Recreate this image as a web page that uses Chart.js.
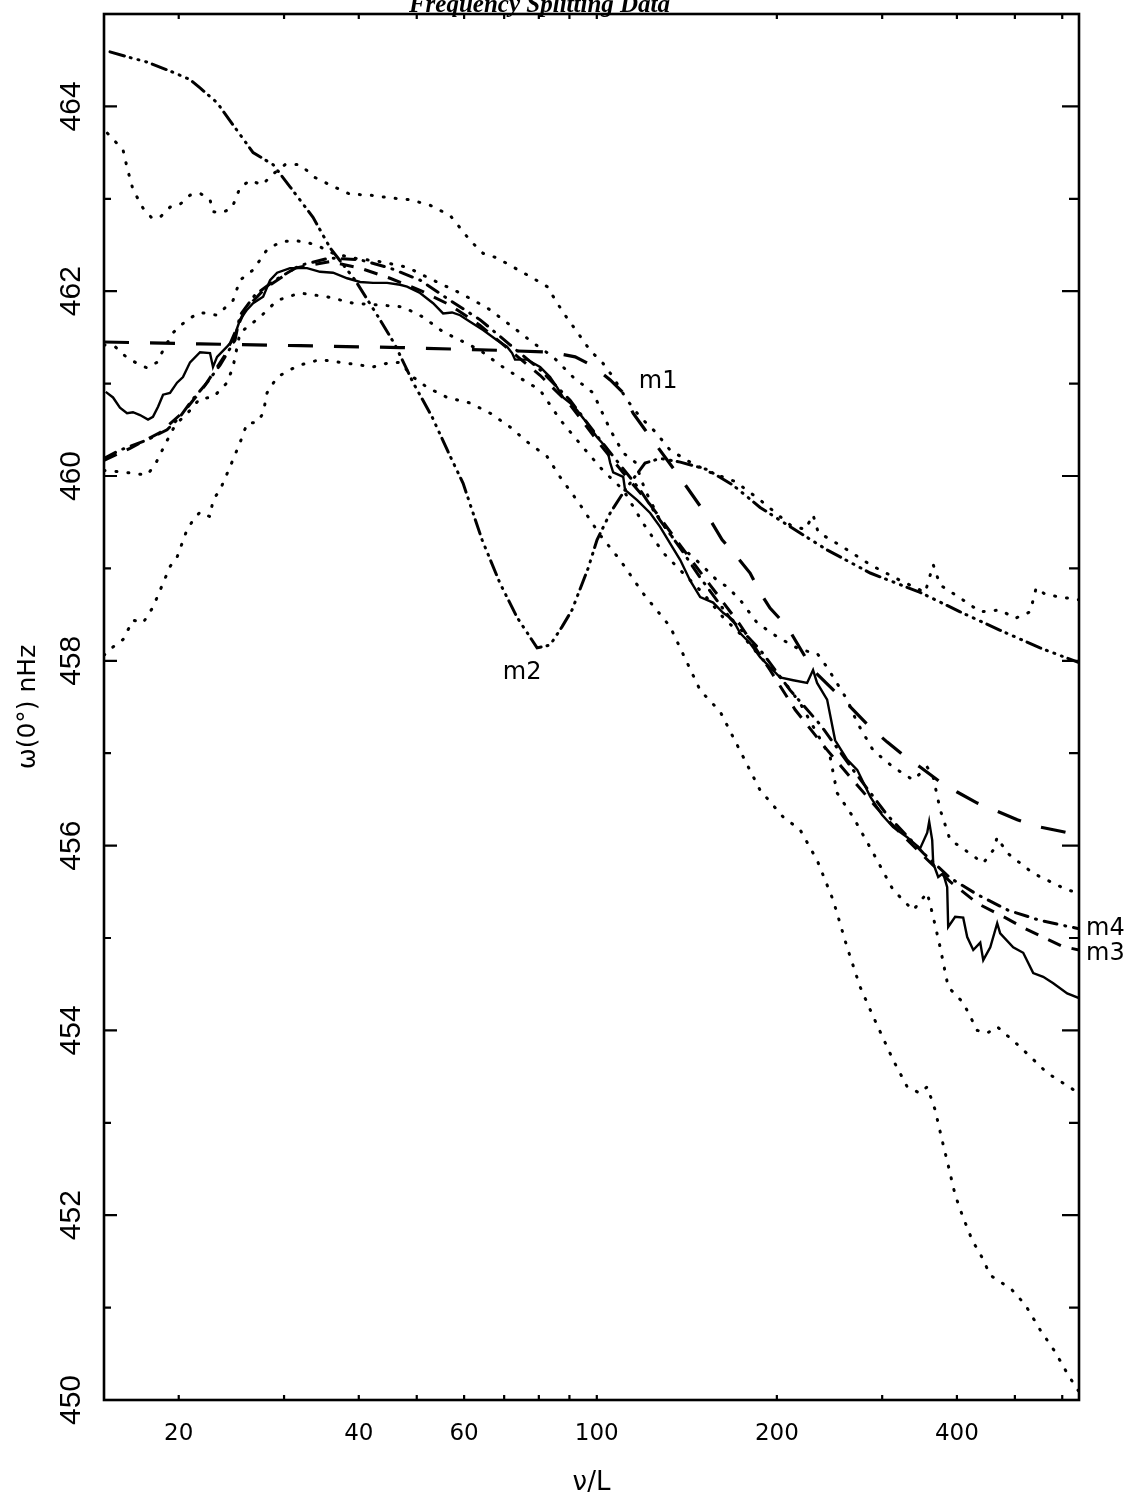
<!DOCTYPE html>
<html>
<head>
<meta charset="utf-8">
<title>Frequency Splitting Data</title>
<script src="https://cdn.jsdelivr.net/npm/chart.js@4.4.1/dist/chart.umd.min.js"></script>
<style>
  html, body { margin: 0; padding: 0; background: #fff; overflow: hidden; }
  #wrap { position: relative; width: 1134px; height: 1502px; }
</style>
</head>
<body>
<div id="wrap"><canvas id="chart" width="1134" height="1502"></canvas></div>
<script>
// x = nu/L (log axis), y = omega(0 deg) in nHz
const xTicks = [20, 40, 60, 100, 200, 400];
const xMinorTicks = [20, 30, 40, 50, 60, 70, 80, 90, 100, 200, 300, 400, 500, 600];
const yTicks = [450, 452, 454, 456, 458, 460, 462, 464];

// measured data (solid)
const solidX = [15.1,15.53,15.95,16.39,16.77,17.23,17.77,18.11,18.47,18.83,19.34,19.87,20.33,20.89,21.71,22.56,22.82,23.18,24.09,24.65,25.32,26.02,26.63,27.68,28.43,29.21,30.70,32.78,34.46,36.23,38.25,40.2,42.27,44.61,46.89,48.17,50.64,53.25,55.34,57.28,59.08,61.39,64.54,68.11,70.78,72.17,73.0,76.46,80.38,83.54,85.82,87.84,90.24,92.7,96.34,100.1,104.0,105.3,106.5,110.7,111.5,116.8,122.8,127.6,132.6,137.9,143.2,148.9,156.5,162.6,169.0,173.6,180.4,187.5,194.8,202.5,213.0,224.7,229.9,233.5,242.7,250.3,262.2,272.5,286.5,300,312.9,330.3,347.2,356.8,359.5,363.7,365.1,372.2,379.4,385.3,386.8,397.3,409.8,416.2,426.0,437.6,442.7,454.8,467.1,472.5,496.8,516.3,536.6,557.6,579.6,611.6,640];
const solidY = [460.91,460.85,460.74,460.68,460.69,460.66,460.61,460.64,460.75,460.88,460.90,461.01,461.07,461.23,461.34,461.33,461.18,461.29,461.40,461.47,461.69,461.80,461.87,461.94,462.12,462.20,462.25,462.25,462.21,462.20,462.14,462.10,462.09,462.09,462.07,462.05,461.98,461.87,461.76,461.77,461.74,461.67,461.58,461.47,461.40,461.33,461.26,461.26,461.18,461.07,460.96,460.85,460.79,460.71,460.57,460.42,460.30,460.14,460.04,459.99,459.85,459.74,459.60,459.45,459.27,459.09,458.87,458.69,458.63,458.52,458.44,458.30,458.19,458.04,457.93,457.82,457.79,457.76,457.90,457.76,457.58,457.14,456.93,456.82,456.53,456.33,456.20,456.09,455.97,456.14,456.26,456.06,455.81,455.66,455.70,455.55,455.12,455.23,455.22,455.01,454.87,454.95,454.76,454.90,455.16,455.05,454.90,454.84,454.62,454.58,454.51,454.40,454.35];

// dotted error curves
const daX = [15.2,16.14,16.39,16.77,17.43,18.05,18.61,19.34,20.10,20.89,21.71,22.56,22.82,23.63,24.55,25.32,26.32,27.57,28.65,30.12,31.9,33.81,35.81,38.67,41.79,45.12,48.73,52.65,56.86,61.39,64.54,68.11,71.61,78.27,82.59,87.84,92.7,97.44,102.4,106.5,112.4,118.1,125.2,132.6,143.2,154.7,170.4,187.5,210.6,223.1,229.9,234.5,255.2,286.5,321.5,354.0,365.1,375,405,437.6,472.5,500.7,530.4,542.7,561.9,595.4,640];
const daY = [463.71,463.53,463.34,463.10,462.90,462.79,462.80,462.91,462.94,463.04,463.06,462.99,462.86,462.85,462.90,463.12,463.20,463.15,463.26,463.37,463.37,463.23,463.15,463.05,463.04,463.01,462.99,462.93,462.82,462.55,462.41,462.36,462.28,462.14,462.05,461.77,461.56,461.36,461.22,461.07,460.82,460.64,460.48,460.28,460.15,460.04,459.94,459.74,459.47,459.42,459.58,459.39,459.25,459.04,458.87,458.74,459.04,458.82,458.68,458.53,458.55,458.46,458.53,458.79,458.72,458.69,458.66];

const dbX = [15,15.65,16.39,17.03,17.70,18.39,18.83,19.56,20.65,21.71,23.18,24.65,25.32,26.63,28.10,29.54,31.06,32.78,34.46,36.23,39.13,43.42,48.17,53.25,59.08,65.58,72.43,78.27,84.51,91.29,98.58,105.3,110.7,115.9,120.4,127.6,136.2,144.9,150.6,158.9,165.2,173.6,185.4,200.2,218.8,233.6,242.7,262.1,272.5,289.8,312.9,338.0,356.8,365.1,375.0,389.7,405,442.7,459.9,467.1,485.4,536.6,611.6,640];
const dbY = [461.42,461.40,461.28,461.22,461.17,461.23,461.36,461.55,461.69,461.77,461.74,461.90,462.12,462.23,462.45,462.53,462.55,462.53,462.48,462.41,462.36,462.32,462.26,462.12,461.98,461.82,461.61,461.44,461.29,461.07,460.90,460.50,460.25,460.15,459.85,459.52,459.27,459.12,459.02,458.87,458.80,458.66,458.41,458.26,458.12,458.08,457.93,457.58,457.33,457.03,456.85,456.71,456.85,456.74,456.39,456.06,455.99,455.81,455.95,456.09,455.92,455.70,455.52,455.49];

const dcX = [15,16.26,17.70,18.25,18.97,19.72,20.89,21.71,22.82,24.09,24.65,25.32,27.35,29.21,31.90,35.40,39.13,43.42,47.43,51.23,55.34,59.08,63.83,68.88,74.42,80.38,86.81,94.86,102.4,110.7,119.5,129.1,139.4,150.6,162.6,175.7,189.7,204.9,218.8,231.8,245.5,252.2,268.2,289.8,312.9,338.0,356.8,365.1,375.0,386.8,409.8,432.6,449.5,467.1,510.5,566.2,640];
const dcY = [460.06,460.04,460.01,460.12,460.34,460.55,460.71,460.84,460.85,461.01,461.18,461.55,461.72,461.90,461.98,461.94,461.87,461.85,461.83,461.72,461.56,461.47,461.36,461.20,461.06,460.93,460.61,460.31,460.06,459.85,459.49,459.17,458.95,458.73,458.47,458.26,458.01,457.79,457.54,457.25,456.96,456.57,456.31,455.92,455.52,455.30,455.49,455.23,454.90,454.47,454.30,454.00,453.97,454.04,453.82,453.54,453.32];

const ddX = [15,15.53,16.14,16.77,17.43,18.11,18.83,19.34,19.87,20.65,21.13,21.71,22.56,22.82,23.45,24.37,25.32,26.02,27.04,27.68,28.10,29.21,30.70,31.90,34.46,38.25,42.27,44.61,46.89,49.31,52.03,56.20,61.39,66.33,71.61,76.46,82.59,86.81,93.78,101.3,109.4,119.5,132.6,148.9,160.8,175.7,187.5,204.9,218.8,233.6,248.4,262.1,275.6,289.8,312.9,330.3,347.2,356.8,367.8,377.9,386.8,397.3,408.3,424.2,440.9,454.8,472.5,494.8,520.4,551,583.9,613.9,640];
const ddY = [458.06,458.15,458.23,458.44,458.41,458.58,458.84,459.02,459.12,459.42,459.52,459.61,459.56,459.74,459.85,460.10,460.36,460.57,460.58,460.68,460.90,461.07,461.15,461.20,461.26,461.22,461.18,461.22,461.23,461.07,460.96,460.85,460.79,460.68,460.53,460.37,460.21,459.99,459.69,459.36,459.09,458.73,458.37,457.68,457.45,456.96,456.60,456.31,456.17,455.84,455.41,454.90,454.47,454.15,453.68,453.39,453.32,453.39,453.14,452.81,452.54,452.22,452.00,451.73,451.54,451.35,451.28,451.19,451.03,450.76,450.52,450.27,450.09];

// models m1..m4
const m1X = [15,21.71,31.9,46.89,68.88,83.54,92.0,98.6,105.3,110.7,115.0,120.4,137.9,155.9,162.0,172.3,180.4,187.5,194.8,208.1,216.2,229.9,258.2,286.5,305.9,325.2,347.2,375.0,400.4,432.6,459.9,504.6,551,602.3,640];
const m1Y = [461.45,461.43,461.41,461.39,461.36,461.34,461.29,461.19,461.04,460.90,460.68,460.50,459.98,459.49,459.31,459.11,458.95,458.74,458.57,458.37,458.19,457.90,457.58,457.28,457.12,456.98,456.85,456.69,456.58,456.46,456.39,456.28,456.20,456.15,456.11];

const m2X = [15.35,16.77,17.70,19.56,20.89,21.71,23.18,24.65,26.63,28.76,30.70,33.54,35.81,39.44,43.42,45.99,49.31,53.04,56.43,59.77,64.29,68.88,73.58,79.46,83.54,87.5,90.9,96.7,100.1,105.3,111.5,120.4,127.6,137.9,152.9,169.0,187.5,210.6,242.7,286.5,347.2,405,472.5,551,640];
const m2Y = [464.59,464.52,464.48,464.37,464.29,464.20,464.04,463.80,463.50,463.37,463.13,462.80,462.47,462.12,461.69,461.42,461.01,460.64,460.26,459.92,459.31,458.84,458.47,458.14,458.17,458.37,458.55,459.0,459.31,459.60,459.85,460.14,460.19,460.15,460.07,459.90,459.66,459.45,459.20,458.95,458.74,458.53,458.33,458.14,457.98];

const m3X = [15,16.58,18.61,20.49,22.13,23.91,25.82,27.88,31.30,35.81,40.20,45.12,50.64,56.86,63.83,71.61,80.38,90.24,101.3,111.5,122.8,137.9,154.7,173.6,194.8,214.6,240.9,270.3,305.9,351.3,389.7,434.1,481.8,524.4,599.8,640];
const m3Y = [460.17,460.30,460.47,460.71,460.98,461.31,461.80,462.03,462.25,462.32,462.25,462.14,462.01,461.85,461.63,461.36,461.09,460.77,460.34,460.01,459.69,459.25,458.82,458.39,457.90,457.47,457.06,456.68,456.28,455.89,455.61,455.37,455.22,455.09,454.91,454.87];

const m4X = [15,15.95,17.70,19.12,20.10,21.05,22.30,23.45,24.84,25.32,26.83,28.98,31.90,35.81,40.20,45.12,50.64,56.86,63.83,71.61,80.38,90.24,101.3,109.4,118.1,127.6,137.9,148.9,167.1,187.5,210.6,236.3,268.2,305.9,351.3,389.7,432.6,487.3,551,640];
const m4Y = [460.19,460.28,460.39,460.50,460.64,460.82,461.01,461.20,461.47,461.74,461.96,462.12,462.28,462.36,462.34,462.25,462.12,461.90,461.69,461.42,461.15,460.82,460.39,460.12,459.85,459.52,459.22,458.90,458.46,458.12,457.68,457.31,456.82,456.33,455.92,455.65,455.47,455.30,455.19,455.10];

function series(xs, ys) {
  return xs.map((v, i) => ({ x: v, y: ys[i] }));
}

const dotted = { borderDash: [1, 11], borderWidth: 3, borderCapStyle: "round" };

function line(label, xs, ys, style) {
  return Object.assign({
    label: label,
    data: series(xs, ys),
    borderColor: "#000",
    backgroundColor: "#000",
    pointRadius: 0,
    fill: false,
    tension: 0,
    borderWidth: 2.4,
  }, style);
}

const framePlugin = {
  id: "frame",
  afterDatasetsDraw(chart) {
    const { ctx, chartArea: a, scales } = chart;
    const x = scales.x;
    const y = scales.y;
    ctx.save();
    ctx.strokeStyle = "#000";
    ctx.lineWidth = 2.6;
    ctx.strokeRect(a.left, a.top, a.right - a.left, a.bottom - a.top);

    ctx.lineWidth = 2.2;
    ctx.beginPath();
    for (let w = 451; w < 465; w++) {
      const py = y.getPixelForValue(w);
      const major = w % 2 === 0;
      ctx.moveTo(a.left, py);
      ctx.lineTo(a.left + (major ? 13 : 7), py);
      ctx.moveTo(a.right, py);
      ctx.lineTo(a.right - (major ? 17 : 10), py);
    }
    xMinorTicks.forEach((v) => {
      const px = x.getPixelForValue(v);
      ctx.moveTo(px, a.bottom);
      ctx.lineTo(px, a.bottom - 5);
      ctx.moveTo(px, a.top);
      ctx.lineTo(px, a.top + 5);
    });
    ctx.stroke();

    // curve names
    ctx.fillStyle = "#000";
    ctx.font = "24px 'DejaVu Sans'";
    ctx.textBaseline = "middle";
    ctx.textAlign = "center";
    ctx.fillText("m1", x.getPixelForValue(126.6), y.getPixelForValue(461.02));
    ctx.fillText("m2", x.getPixelForValue(75), y.getPixelForValue(457.87));
    ctx.textAlign = "left";
    ctx.fillText("m4", a.right + 7, y.getPixelForValue(m4Y[m4Y.length - 1]));
    ctx.fillText("m3", a.right + 7, y.getPixelForValue(m3Y[m3Y.length - 1]) + 4);
    ctx.restore();
  },
};

const ctx = document.getElementById("chart").getContext("2d");

new Chart(ctx, {
  type: "line",
  data: {
    datasets: [
      line("upper outer", daX, daY, dotted),
      line("upper inner", dbX, dbY, dotted),
      line("lower inner", dcX, dcY, dotted),
      line("lower outer", ddX, ddY, dotted),
      line("m1", m1X, m1Y, { borderDash: [25, 21], borderWidth: 3.2 }),
      line("m2", m2X, m2Y, { borderDash: [15, 6, 1, 7, 1, 7, 1, 6], borderWidth: 3, borderCapStyle: "round" }),
      line("m3", m3X, m3Y, { borderDash: [14, 11], borderWidth: 3 }),
      line("m4", m4X, m4Y, { borderDash: [13, 8, 1, 8], borderWidth: 3, borderCapStyle: "round" }),
      line("data", solidX, solidY, { borderWidth: 2.4 }),
    ],
  },
  options: {
    responsive: false,
    animation: false,
    events: [],
    layout: { padding: { left: 0, right: 55, top: 0, bottom: 0 } },
    plugins: {
      legend: { display: false },
      tooltip: { enabled: false },
      title: {
        display: true,
        text: "Frequency Splitting Data",
        color: "#000",
        padding: { top: 0, bottom: 3.5 },
        font: { family: "'Liberation Serif'", size: 25, style: "italic", weight: "bold", lineHeight: 0.42 },
      },
    },
    scales: {
      x: {
        type: "logarithmic",
        min: 15,
        max: 640,
        grid: { display: false, drawTicks: false },
        border: { display: false },
        afterBuildTicks: (s) => { s.ticks = xTicks.map((v) => ({ value: v })); },
        afterFit: (s) => { s.height = 102; s.paddingLeft = 0; s.paddingRight = 0; },
        ticks: {
          autoSkip: false,
          maxRotation: 0,
          minRotation: 0,
          padding: 20,
          color: "#000",
          font: { family: "'DejaVu Sans'", size: 23 },
          callback: (v) => String(v),
        },
        title: {
          display: true,
          text: "ν/L",
          color: "#000",
          font: { family: "'DejaVu Sans'", size: 26 },
          padding: { top: 0, bottom: 3 },
        },
      },
      y: {
        type: "linear",
        min: 450,
        max: 465,
        grid: { display: false, drawTicks: false },
        border: { display: false },
        afterBuildTicks: (s) => { s.ticks = yTicks.map((v) => ({ value: v })); },
        afterFit: (s) => { s.width = 104; s.paddingTop = 0; s.paddingBottom = 0; },
        ticks: {
          minRotation: 90,
          maxRotation: 90,
          crossAlign: "center",
          padding: 7,
          color: "#000",
          font: { family: "'Liberation Sans'", size: 30 },
          callback: (v) => String(v),
        },
        title: {
          display: true,
          text: "ω(0°) nHz",
          color: "#000",
          font: { family: "'DejaVu Sans'", size: 25 },
          padding: { top: 13, bottom: 0 },
        },
      },
    },
  },
  plugins: [framePlugin],
});
</script>
</body>
</html>
